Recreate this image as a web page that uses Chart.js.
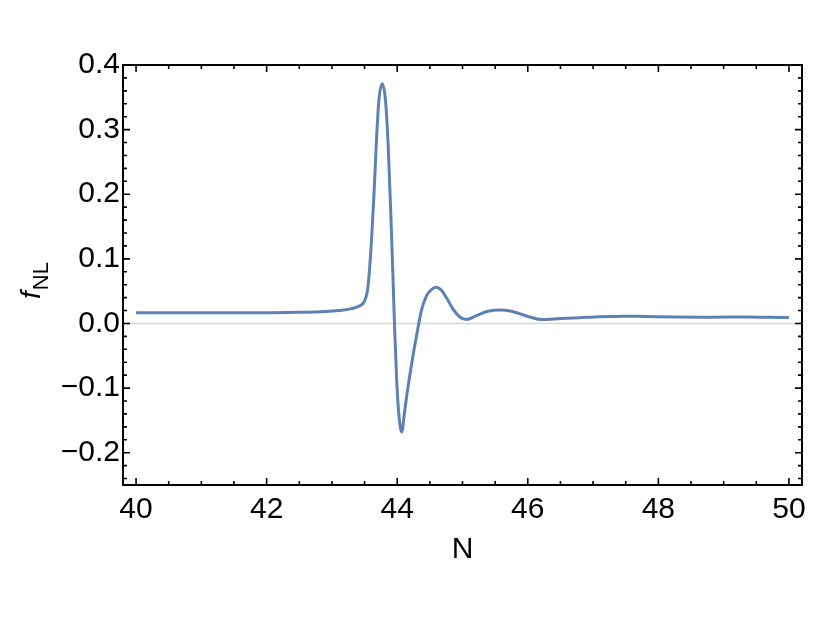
<!DOCTYPE html>
<html>
<head>
<meta charset="utf-8">
<script src="https://cdn.jsdelivr.net/npm/chart.js@4.4.1/dist/chart.umd.min.js"></script>
<style>
    html, body { margin: 0; padding: 0; background: #ffffff; }
    #wrap { width: 822px; height: 617px; }
</style>
</head>
<body>
<div id="wrap"><canvas id="FnlChart" width="822" height="617"></canvas></div>
<script>
const NValues = [
    40.0, 40.5, 41.0, 41.5, 42.0, 42.5, 42.9, 43.1, 43.3, 43.42,
    43.50, 43.55, 43.60, 43.645, 43.68, 43.72, 43.77, 43.82, 43.86, 43.90,
    43.935, 43.96, 43.99, 44.02, 44.07, 44.11, 44.15, 44.23, 44.32, 44.37,
    44.45, 44.52, 44.60, 44.68, 44.76, 44.85, 44.96, 45.06, 45.21, 45.39,
    45.57, 45.75, 46.03, 46.21, 46.5, 46.8, 47.1, 47.46, 47.8, 48.27,
    48.8, 49.36, 49.7, 50.0
];
const FnlValues = [
    0.0166, 0.0165, 0.0164, 0.0164, 0.0166, 0.0172, 0.0185, 0.020, 0.023, 0.027,
    0.035, 0.055, 0.118, 0.201, 0.279, 0.346, 0.371, 0.346, 0.279, 0.175,
    0.072, -0.006, -0.083, -0.135, -0.168, -0.139, -0.109, -0.057, -0.006, 0.020,
    0.043, 0.052, 0.056, 0.051, 0.039, 0.023, 0.010, 0.006, 0.012, 0.019,
    0.021, 0.019, 0.010, 0.006, 0.0075, 0.009, 0.0105, 0.0113, 0.0108, 0.0100,
    0.0098, 0.0100, 0.0095, 0.0093
];
const XTickLabels = [40, 42, 44, 46, 48, 50];
const YTickLabels = [-0.2, -0.1, 0.0, 0.1, 0.2, 0.3, 0.4];
const XMinorStep = 0.5;
const YMinorStep = 0.02;

const LineColor = '#5E81B5';
const FontFamily = '"Liberation Sans", Arial, sans-serif';

const framePlugin = {
    id: 'mathematicaFrame',
    beforeDatasetsDraw(chart) {
        const { ctx, chartArea: { left, right }, scales: { y } } = chart;
        const y0 = y.getPixelForValue(0);
        ctx.save();
        ctx.strokeStyle = '#d6d6d6';
        ctx.lineWidth = 1.5;
        ctx.beginPath();
        ctx.moveTo(left, y0);
        ctx.lineTo(right, y0);
        ctx.stroke();
        ctx.restore();
    },
    afterDraw(chart) {
        const { ctx, chartArea: { left, right, top, bottom }, scales: { x, y } } = chart;
        ctx.save();
        ctx.strokeStyle = '#000000';
        ctx.lineWidth = 1.6;
        ctx.beginPath();
        // x ticks, bottom and top
        for (let v = 40; v <= 50.001; v += XMinorStep) {
            const px = x.getPixelForValue(v);
            const major = XTickLabels.some(t => Math.abs(t - v) < 1e-6);
            const len = major ? 7 : 4;
            ctx.moveTo(px, bottom);
            ctx.lineTo(px, bottom - len);
            ctx.moveTo(px, top);
            ctx.lineTo(px, top + len);
        }
        // y ticks, left and right
        for (let k = -12; k <= 20; k++) {
            const v = k * YMinorStep;
            const py = y.getPixelForValue(v);
            const major = k % 5 === 0;
            const len = major ? 7 : 4;
            ctx.moveTo(left, py);
            ctx.lineTo(left + len, py);
            ctx.moveTo(right, py);
            ctx.lineTo(right - len, py);
        }
        ctx.stroke();

        ctx.lineWidth = 2;
        ctx.strokeRect(left, top, right - left, bottom - top);

        // axis titles
        ctx.fillStyle = '#000000';
        ctx.textAlign = 'center';
        ctx.textBaseline = 'middle';
        ctx.font = '30px ' + FontFamily;
        ctx.fillText('N', (left + right) / 2, 550);

        ctx.translate(0, 281);
        ctx.rotate(-Math.PI / 2);
        ctx.textAlign = 'left';
        ctx.textBaseline = 'alphabetic';
        const fFont = 'italic 28px ' + FontFamily;
        const subFont = '22px ' + FontFamily;
        ctx.font = fFont;
        const wf = ctx.measureText('f').width;
        ctx.font = subFont;
        const wSub = ctx.measureText('NL').width;
        const start = -(wf + wSub) / 2;
        ctx.font = fFont;
        ctx.fillText('f', start, 40);
        ctx.font = subFont;
        ctx.fillText('NL', start + wf + 1, 48);
        ctx.restore();
    }
};

Chart.register(framePlugin);

new Chart(document.getElementById('FnlChart'),
{
    type: 'line',
    data:
    {
        datasets: [{
            data: NValues.map((n, i) => ({ x: n, y: FnlValues[i] })),
            borderColor: LineColor,
            borderWidth: 3,
            pointRadius: 0,
            cubicInterpolationMode: 'monotone',
            fill: false
        }]
    },
    options:
    {
        responsive: false,
        animation: false,
        layout: { padding: { left: 0, top: 65, right: 20, bottom: 0 } },
        plugins: { legend: { display: false }, tooltip: { enabled: false } },
        scales:
        {
            x:
            {
                type: 'linear',
                min: 39.8,
                max: 50.2,
                afterBuildTicks: scale => { scale.ticks = XTickLabels.map(v => ({ value: v })); },
                afterFit: scale => { scale.height = 132; },
                grid: { display: false, drawTicks: false },
                border: { display: false },
                ticks:
                {
                    autoSkip: false,
                    maxRotation: 0,
                    padding: 7,
                    color: '#000000',
                    font: { family: FontFamily, size: 30 },
                    callback: v => String(v)
                }
            },
            y:
            {
                type: 'linear',
                min: -0.25,
                max: 0.4,
                afterBuildTicks: scale => { scale.ticks = YTickLabels.map(v => ({ value: v })); },
                afterFit: scale => { scale.width = 123; },
                grid: { display: false, drawTicks: false },
                border: { display: false },
                ticks:
                {
                    autoSkip: false,
                    padding: 3,
                    color: '#000000',
                    font: { family: FontFamily, size: 30 },
                    callback: v => (v < 0 ? '\u2212' : '') + Math.abs(v).toFixed(1)
                }
            }
        }
    }
});
</script>
</body>
</html>
